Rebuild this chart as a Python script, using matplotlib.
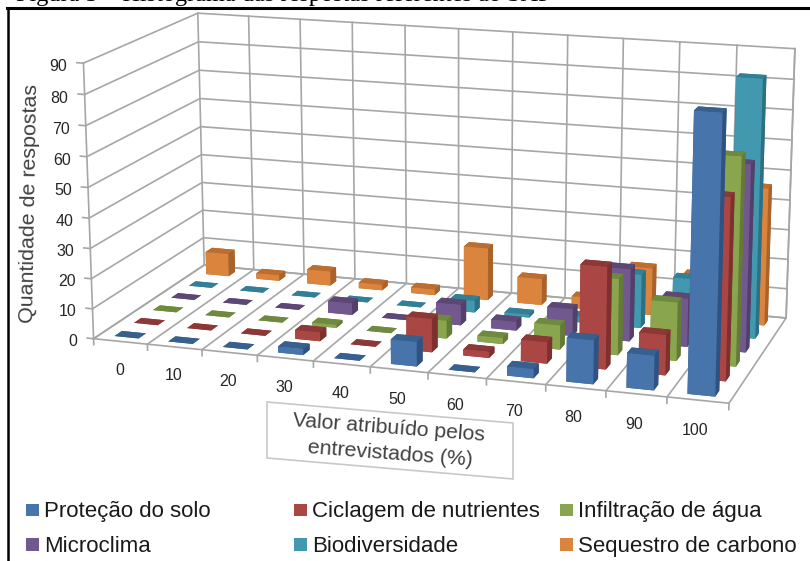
#!/usr/bin/env python3

import matplotlib
matplotlib.use("Agg")
import matplotlib.pyplot as plt
from matplotlib.lines import Line2D
from matplotlib.patches import Polygon, Rectangle

plt.rcParams['font.family'] = ['Liberation Sans', 'DejaVu Sans']

### Data
categories = [0, 10, 20, 30, 40, 50, 60, 70, 80, 90, 100]
series_names = ["Proteção do solo", "Ciclagem de nutrientes", "Infiltração de água",
                "Microclima", "Biodiversidade", "Sequestro de carbono"]
protecao = [0, 0, 0, 2, 0, 8, 0, 3, 14, 11, 87]
ciclagem = [0, 0, 0, 3, 0, 11, 2, 7, 33, 13, 58]
infiltracao = [0, 0, 0, 1, 0, 6, 2, 8, 25, 19, 67]
microclima = [0, 0, 0, 4, 0, 7, 3, 9, 24, 16, 61]
biodiversidade = [0, 0, 0, 0, 0, 4, 1, 2, 18, 18, 85]
sequestro = [8, 2, 5, 2, 2, 18, 9, 4, 16, 15, 46]
yticks = [0, 10, 20, 30, 40, 50, 60, 70, 80, 90]

values = [protecao, ciclagem, infiltracao, microclima, biodiversidade, sequestro]
front = ['#4674AB', '#AA4643', '#89A54E', '#71588F', '#4198AF', '#DB843D']
side = ['#2F5283', '#7D302E', '#647A37', '#523F6A', '#2D7083', '#A8622A']
top = ['#37608F', '#8C3836', '#6F8A3E', '#5C4775', '#338096', '#BB6E30']

W, H = 810, 561
fig = plt.figure(figsize=(W / 100, H / 100), dpi=100)
ax = fig.add_axes([0, 0, 1, 1], projection='3d', computed_zorder=False)
nx, ny, zmax = len(categories), len(values), 90
ax.set_xlim(0, nx)
ax.set_ylim(0, ny)
ax.set_zlim(0, zmax)
ax.set_axis_off()

# camera fitted to the corners of the reference box
ax.view_init(elev=14.4289, azim=-71.9470, roll=0.0881)
ax.set_proj_type('persp', focal_length=0.6532)
ax.set_box_aspect((1, 0.4342, 0.4349))
s, tx, ty = 3982.5, 443.863, 367.14
vl = ax.viewLim
ax.set_position([(tx + s * vl.x0) / W, (ty + s * vl.y0) / H, s * vl.width / W, s * vl.height / H])

### Grid
grid = '#A6A6A6'
lw = 1.2
for v in yticks:
    ax.plot([0, 0, nx], [0, ny, ny], [v, v, v], color=grid, lw=lw, zorder=1)
    ax.plot([-0.12, 0], [0, 0], [v, v], color=grid, lw=lw, zorder=1)
for i in range(nx + 1):
    ax.plot([i, i, i], [0, ny, ny], [0, 0, zmax], color=grid, lw=lw, zorder=1)
    ax.plot([i, i], [0, 0], [0, -2], color=grid, lw=lw, zorder=1)
ax.plot([0, 0], [0, 0], [0, zmax], color=grid, lw=lw, zorder=1)
ax.plot([nx, nx], [ny, ny], [0, zmax], color=grid, lw=lw, zorder=1)
ax.plot([0, nx], [0, 0], [0, 0], color=grid, lw=lw, zorder=1)
ax.plot([0, nx], [ny, ny], [0, 0], color=grid, lw=lw, zorder=1)

### Bars, back row first and left to right
width = 0.45
depth = 0.38
for j in range(ny - 1, -1, -1):
    for i in range(nx):
        faces = [top[j], top[j], front[j], side[j], side[j], side[j]]
        ax.bar3d(i + (1 - width) / 2, j + (1 - depth) / 2, 0, width, depth, values[j][i],
                 color=faces, shade=False, zorder=10 + (ny - j) * 20 + i)

### Tick labels
for v in yticks:
    ax.text(-0.3, 0, v - 1.5, str(v), ha='right', va='center', fontsize=11.5, color='#262626')
for i, c in enumerate(categories):
    ax.text(i + 0.47, 0, -9.7, str(c), ha='center', va='center', fontsize=11.5, color='#262626')

fig.text(30 / W, 1 - 203 / H, "Quantidade de respostas", rotation=89, ha='center', va='center',
         fontsize=15.4, color='#404040')

### Axis title box
corners = [(267, 402), (513, 423), (513, 479), (267, 458)]
fig.add_artist(Polygon([(x / W, 1 - y / H) for x, y in corners], closed=True, transform=fig.transFigure,
                       facecolor='white', edgecolor='#C8C8C8', lw=1.2))
fig.text(389 / W, 1 - 428 / H, "Valor atribuído pelos", rotation=-4.4, ha='center', va='center',
         fontsize=15.3, color='#404040', rotation_mode='anchor')
fig.text(390 / W, 1 - 454 / H, "entrevistados (%)", rotation=-4.4, ha='center', va='center',
         fontsize=15.3, color='#404040', rotation_mode='anchor')

### Legend
legx = [26, 294, 560, 26, 294, 560]
legy = [510, 510, 510, 544.5, 544.5, 544.5]
for name, c, x, y in zip(series_names, front, legx, legy):
    fig.add_artist(Rectangle((x / W, 1 - (y + 6) / H), 12.5 / W, 12.5 / H, transform=fig.transFigure,
                             facecolor=c, edgecolor='none'))
    fig.text((x + 18) / W, 1 - (y + 2) / H, name, ha='left', va='center', fontsize=16, color='#1A1A1A')

### Frame and the cut caption above it
fig.add_artist(Line2D([8 / W, 8 / W], [0, 1 - 8 / H], transform=fig.transFigure, color='k', lw=1.8))
fig.add_artist(Line2D([7 / W, 1], [1 - 8 / H, 1 - 8 / H], transform=fig.transFigure, color='k', lw=2.2))
fig.text(16 / W, 1 - 1.5 / H, "Figura 5 – Histograma das respostas referentes ao SAF", ha='left', va='baseline',
         fontsize=17.5, family='Liberation Serif', color='k')

fig.savefig("out.png", dpi=100)
